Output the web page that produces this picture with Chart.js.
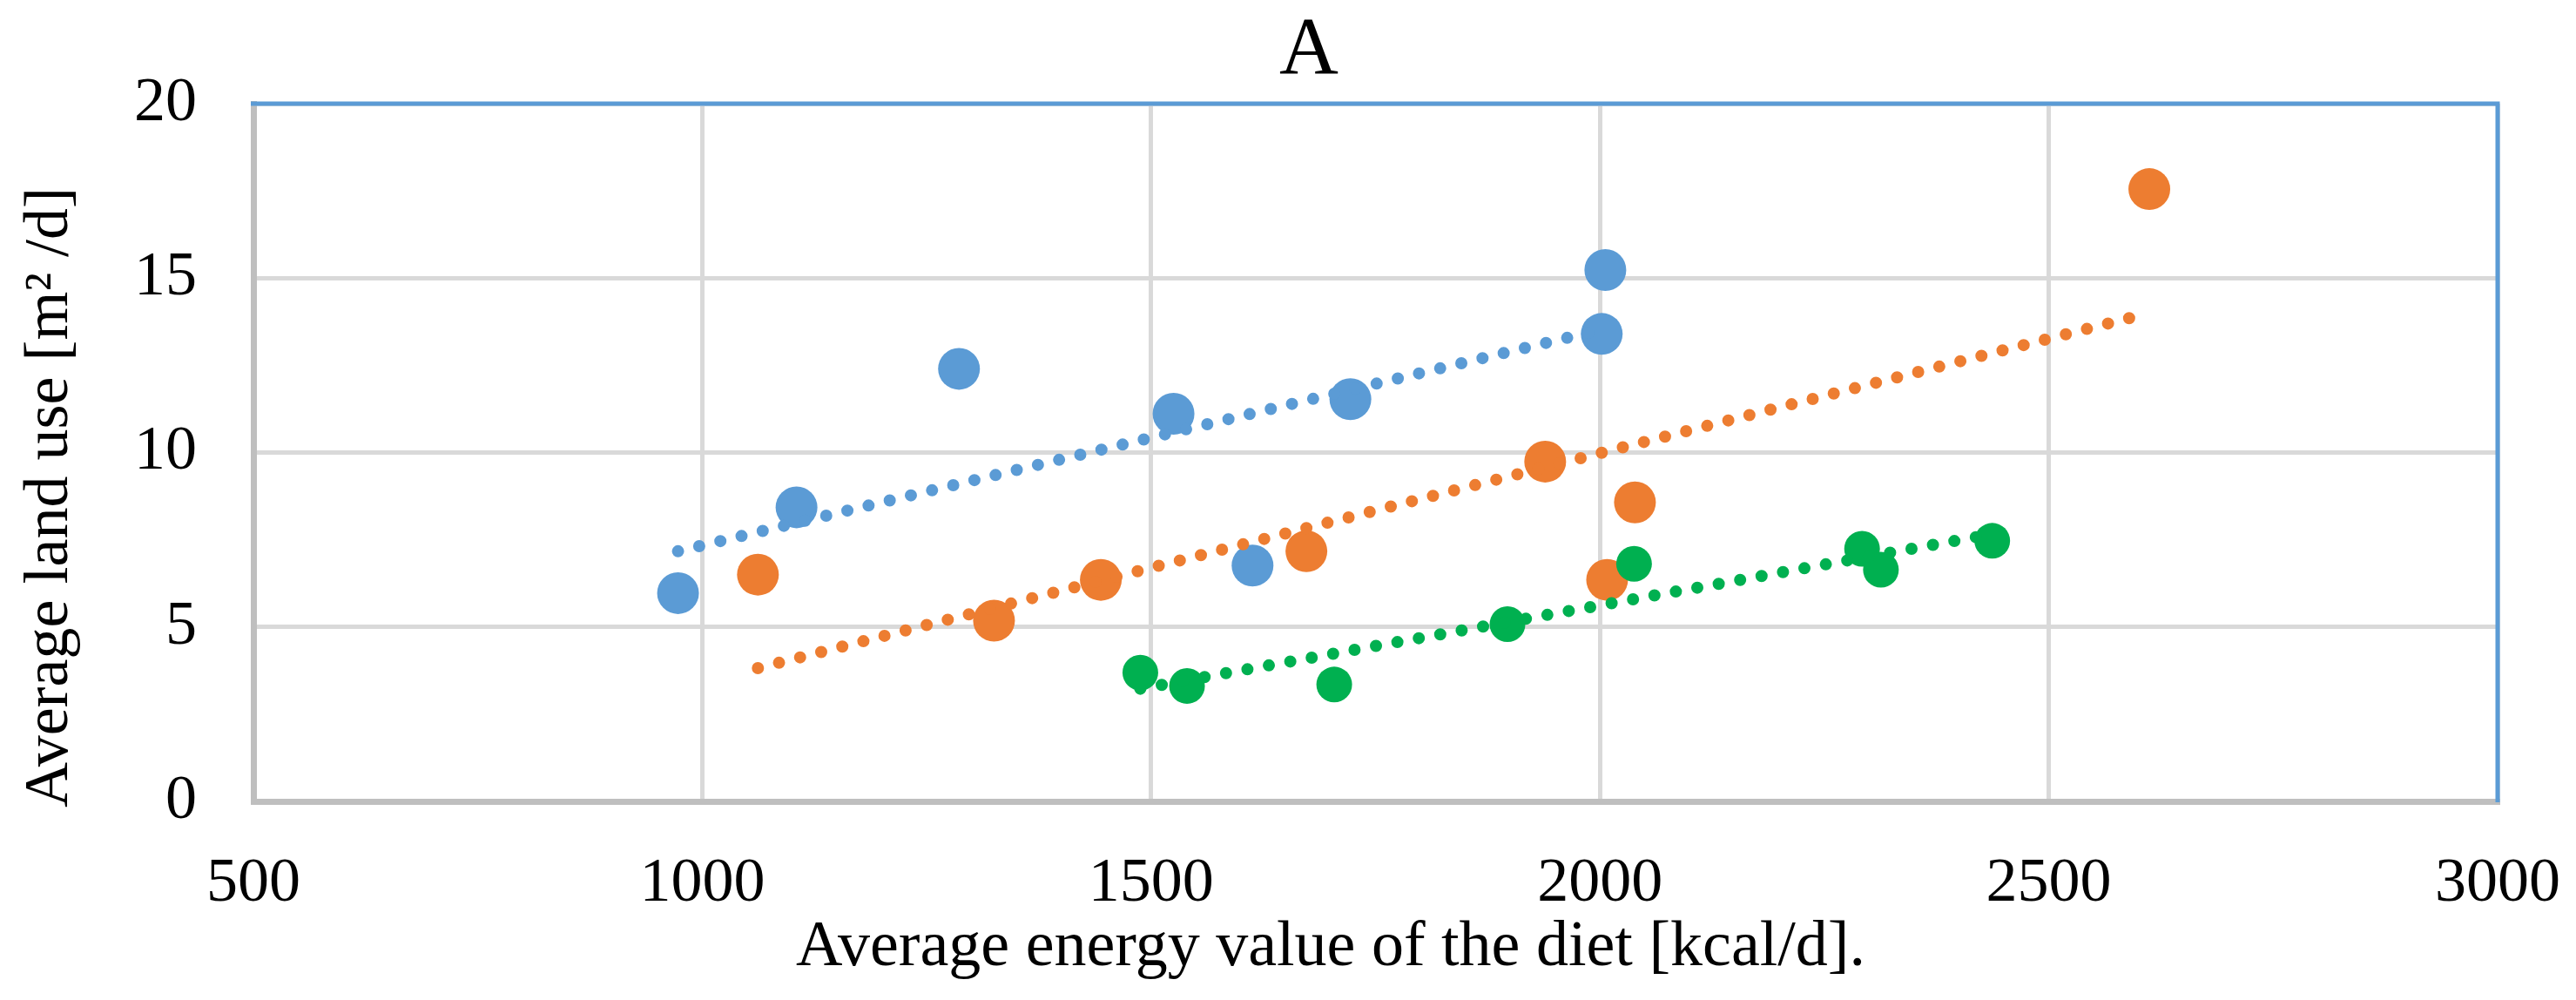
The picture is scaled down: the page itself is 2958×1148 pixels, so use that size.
<!DOCTYPE html>
<html>
<head>
<meta charset="utf-8">
<script src="https://cdn.jsdelivr.net/npm/chart.js@4.4.1/dist/chart.umd.min.js"></script>
<style>
  html, body { margin: 0; padding: 0; background: #fff; }
  canvas { display: block; }
</style>
</head>
<body>
<canvas id="landUseChart" width="2958" height="1148"></canvas>
<script>
// values (energy in kcal/d, land use in m2/d)
const blueEnergy = [973, 1105, 1286, 1525, 1722, 2006, 2002, 1613];
const blueLand = [5.97, 8.43, 12.4, 11.11, 11.53, 15.23, 13.4, 6.76];

const orangeEnergy = [1062, 1325, 1444, 1673, 1939, 2039, 2008, 2612];
const orangeLand = [6.5, 5.18, 6.35, 7.17, 9.74, 8.57, 6.35, 17.55];

const greenEnergy = [1488, 1540, 1704, 1897, 2038, 2292, 2313, 2437];
const greenLand = [3.69, 3.31, 3.35, 5.08, 6.81, 7.24, 6.64, 7.47];

// linear trendline ends, as shown in the figure
const blueTrendX = [973, 2006];
const blueTrendY = [7.17, 13.55];
const orangeTrendX = [1062, 2612];
const orangeTrendY = [3.82, 14.0];
const greenTrendX = [1488, 2437];
const greenTrendY = [3.23, 7.66];

const xTicks = [500, 1000, 1500, 2000, 2500, 3000];
const yTicks = [0, 5, 10, 15, 20];

const chartTitle = "A";
const xTitle = "Average energy value of the diet [kcal/d].";
const yTitle = "Average land use [m\u00B2 /d]";

const BLUE = "#5B9BD5";
const ORANGE = "#ED7D31";
const GREEN = "#00B050";
const FONT = "'Liberation Serif', 'Times New Roman', serif";

const toPoints = (xs, ys) => xs.map((x, i) => ({ x: x, y: ys[i] }));

const pointSet = (xs, ys, color, radius, order) => ({
  type: "scatter",
  data: toPoints(xs, ys),
  backgroundColor: color,
  borderWidth: 0,
  pointRadius: radius,
  pointHoverRadius: radius,
  order: order,
});

const trendSet = (xs, ys, color) => ({
  type: "line",
  data: toPoints(xs, ys),
  borderColor: color,
  borderWidth: 14,
  borderDash: [0, 25],
  borderCapStyle: "round",
  pointRadius: 0,
  fill: false,
  order: 0,
});

// blue frame on top and right of the plot area
const framePlugin = {
  id: "frame",
  beforeDatasetsDraw(chart) {
    const { ctx, chartArea } = chart;
    ctx.save();
    ctx.strokeStyle = BLUE;
    ctx.lineWidth = 5;
    ctx.beginPath();
    ctx.moveTo(chartArea.left - 3, chartArea.top);
    ctx.lineTo(chartArea.right, chartArea.top);
    ctx.lineTo(chartArea.right, chartArea.bottom + 1);
    ctx.stroke();
    ctx.restore();
  },
};

const titlesPlugin = {
  id: "titles",
  afterDraw(chart) {
    const ctx = chart.ctx;
    ctx.save();
    ctx.fillStyle = "#000";
    ctx.textAlign = "center";
    ctx.textBaseline = "alphabetic";
    ctx.font = "94px " + FONT;
    ctx.fillText(chartTitle, 1503, 84);
    ctx.font = "74px " + FONT;
    ctx.fillText(xTitle, 1528, 1108);
    ctx.font = "72px " + FONT;
    ctx.translate(77, 571);
    ctx.rotate(-Math.PI / 2);
    ctx.fillText(yTitle, 0, 0);
    ctx.restore();
  },
};

const tickFont = { family: FONT, size: 72 };

new Chart(document.getElementById("landUseChart"), {
  type: "scatter",
  data: {
    datasets: [
      trendSet(blueTrendX, blueTrendY, BLUE),
      trendSet(orangeTrendX, orangeTrendY, ORANGE),
      trendSet(greenTrendX, greenTrendY, GREEN),
      pointSet(greenEnergy, greenLand, GREEN, 20.5, 1),
      pointSet(orangeEnergy, orangeLand, ORANGE, 24, 2),
      pointSet(blueEnergy, blueLand, BLUE, 24, 3),
    ],
  },
  options: {
    responsive: false,
    animation: false,
    devicePixelRatio: 1,
    layout: { padding: { top: 119, right: 90, left: 0, bottom: 0 } },
    plugins: {
      legend: { display: false },
      tooltip: { enabled: false },
      title: { display: false },
    },
    scales: {
      x: {
        type: "linear",
        min: xTicks[0],
        max: xTicks[xTicks.length - 1],
        afterBuildTicks: (axis) => { axis.ticks = xTicks.map((v) => ({ value: v })); },
        afterFit: (axis) => {
          axis.height = 228;
          axis.paddingLeft = 0;
          axis.paddingRight = 0;
        },
        grid: { color: "#D9D9D9", lineWidth: 5, drawTicks: false },
        border: { color: "#BFBFBF", width: 7 },
        ticks: { color: "#000", font: tickFont, padding: 52, maxRotation: 0, callback: (v) => String(v) },
      },
      y: {
        type: "linear",
        min: yTicks[0],
        max: yTicks[yTicks.length - 1],
        afterBuildTicks: (axis) => { axis.ticks = yTicks.map((v) => ({ value: v })); },
        afterFit: (axis) => {
          axis.width = 291;
          axis.paddingTop = 0;
          axis.paddingBottom = 0;
        },
        grid: { color: "#D9D9D9", lineWidth: 5, drawTicks: false },
        border: { color: "#BFBFBF", width: 7 },
        ticks: { color: "#000", font: tickFont, padding: 65, callback: (v) => String(v) },
      },
    },
  },
  plugins: [framePlugin, titlesPlugin],
});
</script>
</body>
</html>
